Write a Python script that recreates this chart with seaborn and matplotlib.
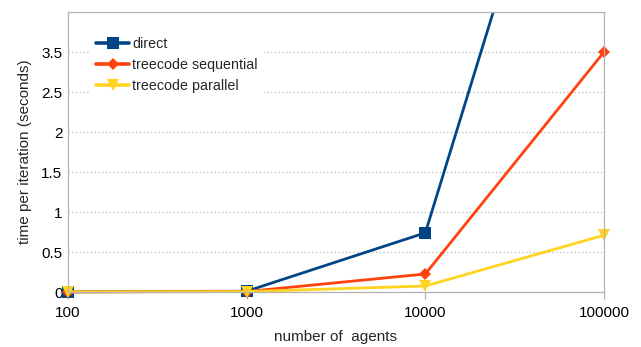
import matplotlib
matplotlib.use("Agg")
import matplotlib.pyplot as plt
from matplotlib.ticker import FixedLocator, FixedFormatter, NullLocator
from matplotlib.lines import Line2D
from matplotlib.patches import Rectangle
import seaborn as sns
import pandas as pd

# Timing results per simulation step
agents = [100, 1000, 10000, 100000]
direct = [0.002, 0.01, 0.74, 8.0]
treecode_sequential = [0.001, 0.006, 0.225, 3.0]
treecode_parallel = [0.002, 0.005, 0.075, 0.71]

series_names = ["direct", "treecode sequential", "treecode parallel"]
y_ticks = [0, 0.5, 1, 1.5, 2, 2.5, 3]
y_tick_labels = ["0", "0.5", "1", "1.5", "2", "2.5", "3.5"]
x_ticks = [100, 1000, 10000, 100000]
x_tick_labels = ["100", "1000", "10000", "100000"]

df = pd.DataFrame({
    "agents": agents * 3,
    "time": direct + treecode_sequential + treecode_parallel,
    "method": [n for n in series_names for _ in agents],
})

sns.set_style("white")
plt.rcParams["font.family"] = ["Liberation Sans", "DejaVu Sans"]

fig = plt.figure(figsize=(6.41, 3.47), dpi=100)
ax = fig.add_axes([68 / 641, 1 - 292 / 347, (604 - 68) / 641, (292 - 12) / 347])

palette = {"direct": "#004586", "treecode sequential": "#ff420e", "treecode parallel": "#ffd320"}
markers = {"direct": "s", "treecode sequential": "D", "treecode parallel": "v"}
sizes = {"direct": 8, "treecode sequential": 6, "treecode parallel": 8.5}

sns.lineplot(data=df, x="agents", y="time", hue="method", style="method",
             hue_order=series_names, style_order=series_names,
             palette=palette, markers=markers, dashes=False,
             linewidth=2.0, markeredgewidth=0, ax=ax, legend=False)

# Markers may overhang the left/right frame, but nothing goes above the top
clip_box = Rectangle((-0.05, -0.06), 1.1, 1.06, transform=ax.transAxes,
                     facecolor="none", edgecolor="none")
ax.add_patch(clip_box)
for line, name in zip(ax.get_lines(), series_names):
    line.set_markersize(sizes[name])
    line.set_clip_path(clip_box)

ax.set_xscale("log")
ax.set_xlim(100, 100000)
ax.set_ylim(0, 3.5)
ax.xaxis.set_major_locator(FixedLocator(x_ticks))
ax.xaxis.set_major_formatter(FixedFormatter(x_tick_labels))
ax.xaxis.set_minor_locator(NullLocator())
ax.yaxis.set_major_locator(FixedLocator(y_ticks))
ax.yaxis.set_major_formatter(FixedFormatter(y_tick_labels))

ax.grid(axis="y", color="#b3b3b3", linestyle=(0, (1, 2)), linewidth=0.9)
ax.grid(axis="x", visible=False)
for s in ax.spines.values():
    s.set_color("#b3b3b3")
    s.set_linewidth(0.9)
ax.tick_params(axis="x", labelsize=11, colors="#b3b3b3", labelcolor="black",
               length=5, width=0.9, direction="out", bottom=True, pad=5)
ax.tick_params(axis="y", labelsize=11, labelcolor="black", length=0, left=False, pad=4)

ax.set_xlabel("number of  agents", fontsize=11, labelpad=7)
ax.set_ylabel("time per iteration (seconds)", fontsize=11, labelpad=7)

handles = [Line2D([], [], color=palette[n], marker=markers[n], markersize=sizes[n],
                  markeredgewidth=0, linewidth=2.6) for n in series_names]
leg = ax.legend(handles, series_names, loc="upper left", bbox_to_anchor=(0.042, 0.932),
                frameon=True, fontsize=10.3, handlelength=2.3, handletextpad=0.2,
                labelspacing=0.5, borderpad=0.4, borderaxespad=0)
leg.get_frame().set_edgecolor("white")
leg.get_frame().set_facecolor("white")
leg.get_frame().set_alpha(1)
leg.get_frame().set_boxstyle("square", pad=0)

fig.savefig("out.png", dpi=100)
